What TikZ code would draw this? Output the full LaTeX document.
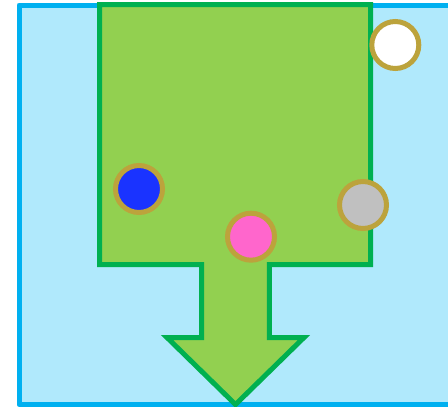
\documentclass[tikz,border=0pt]{standalone}
\definecolor{skyfill}{HTML}{B0E9FC}
\definecolor{skyline}{HTML}{00B0F0}
\definecolor{leaf}{HTML}{92D050}
\definecolor{leafline}{HTML}{00B050}
\definecolor{gold}{HTML}{BCA33C}
\definecolor{dotblue}{HTML}{1A33FF}
\definecolor{dotpink}{HTML}{FF66CC}
\definecolor{dotgray}{HTML}{C0C0C0}
\tikzset{
  dot/.style={circle, draw=gold, line width=5pt, minimum size=47pt, inner sep=0pt},
}
\begin{document}
\begin{tikzpicture}[x=1pt,y=-1pt]
\useasboundingbox (0,0) rectangle (448,407);
\clip (0,0) rectangle (448,407);
\draw[skyline, fill=skyfill, line width=5pt, line join=round] (19,5) rectangle (470,404.5);
\draw[leafline, fill=leaf, line width=5pt, line join=miter]
  (99.5,4.5) -- (370.7,4.5) -- (370.7,264.5) -- (269.3,264.5) -- (269.3,337.5)
  -- (304,337.5) -- (235.5,404.5) -- (167,337.5) -- (201.5,337.5) -- (201.5,264.5)
  -- (99.5,264.5) -- cycle;
\node[dot, fill=white] (w) at (395.3,45) {};
\node[dot, fill=dotblue] (b) at (139,189) {};
\node[dot, fill=dotgray] (g) at (363,205) {};
\node[dot, fill=dotpink] (p) at (251,236.7) {};
\end{tikzpicture}
\end{document}
